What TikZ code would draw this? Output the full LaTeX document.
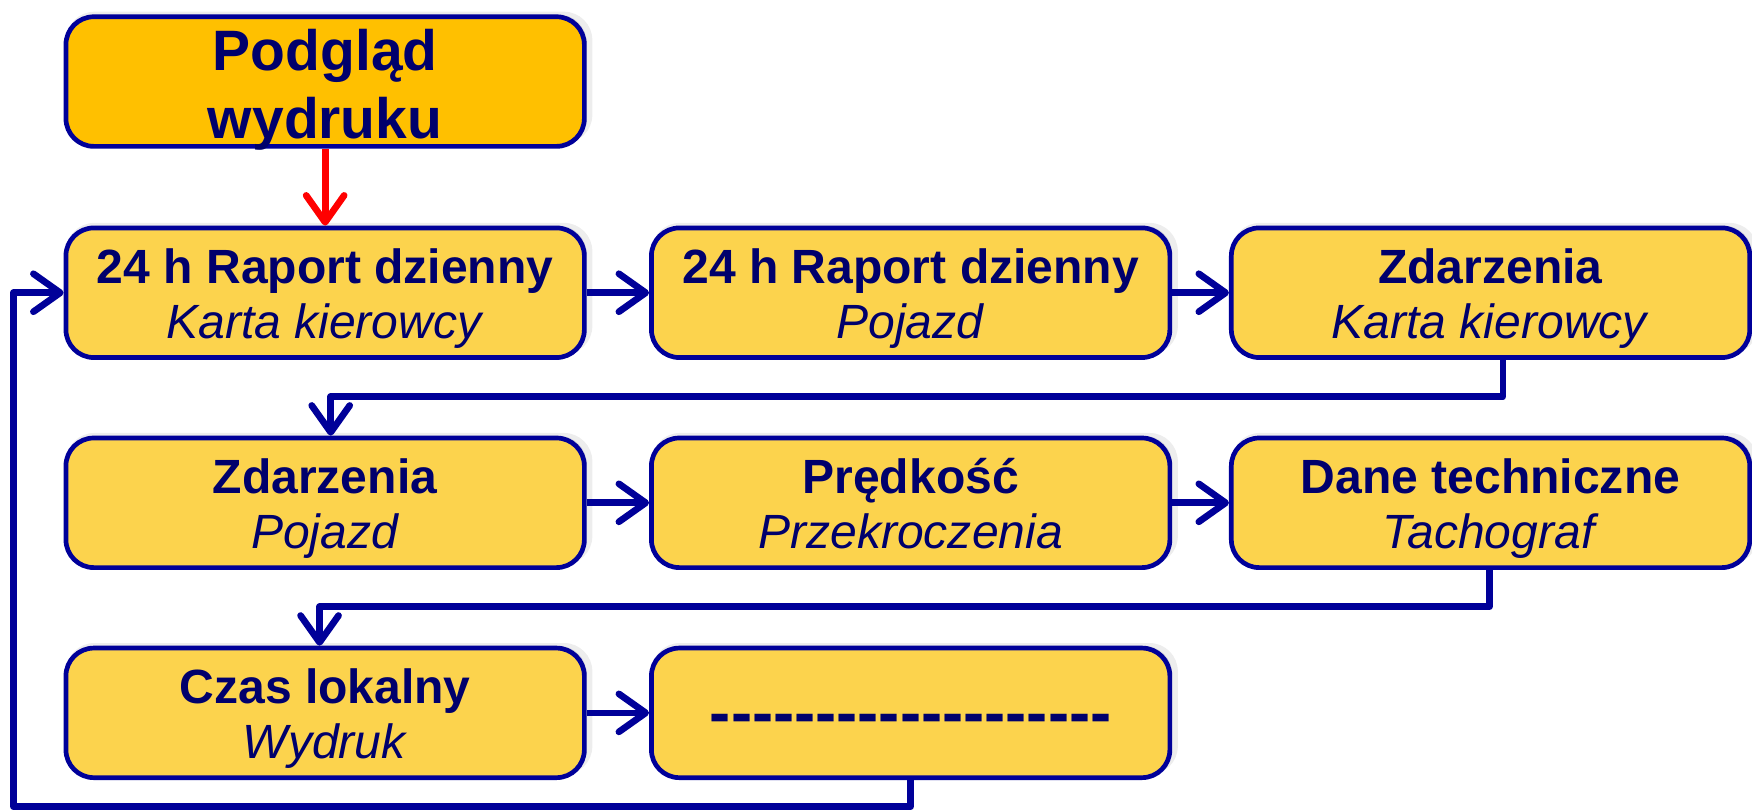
\documentclass[tikz,border=0pt]{standalone}
\usepackage{fontspec}
\setmainfont{Liberation Sans}
\usetikzlibrary{arrows.meta,shadows,calc}
\definecolor{boxblue}{RGB}{0,0,153}
\definecolor{txtblue}{RGB}{0,0,108}
\definecolor{topfill}{RGB}{255,192,0}
\definecolor{rowfill}{RGB}{252,211,77}
\newcommand\twoline[2]{\textbf{#1}\rule{0pt}{22.1pt}\\\textit{#2}\rule[-6pt]{0pt}{6pt}}
\newcommand\hy{\mbox{-}}
\begin{document}
\begin{tikzpicture}[x=0.5pt,y=-0.5pt,
  basebox/.style={draw=boxblue,line width=2.1pt,rounded corners=12.5pt,
    minimum width=232pt,minimum height=58pt,inner sep=0pt,align=center,
    text=txtblue,
    general shadow={fill=black,opacity=0.07,shadow xshift=1.8pt,shadow yshift=1.8pt,shadow scale=1.015},
    general shadow={fill=black,opacity=0.10,shadow xshift=1pt,shadow yshift=1pt}},
  topbox/.style={basebox,fill=topfill,font=\fontsize{25.5pt}{30.5pt}\selectfont\bfseries},
  rowbox/.style={basebox,fill=rowfill,font=\fontsize{21.5pt}{24.5pt}\selectfont},
  conn/.style={draw=boxblue,line width=3pt,line join=round,
    -{Straight Barb[length=12pt,width=17pt,round]}},
  redconn/.style={draw=red,line width=3pt,
    -{Straight Barb[length=12pt,width=17pt,round]}}]
\useasboundingbox (0,0) rectangle (1568,726);
\node[topbox] (T) at (291,73) {Podgląd\rule{0pt}{20.2pt}\\\smash{wydruku}};
\node[rowbox] (B1) at (291,262) {\twoline{24 h Raport dzienny}{Karta kierowcy}};
\node[rowbox] (B2) at (815,262) {\twoline{24 h Raport dzienny}{Pojazd}};
\node[rowbox] (B3) at (1334,262) {\twoline{Zdarzenia}{Karta kierowcy}};
\node[rowbox] (B4) at (291,450) {\twoline{Zdarzenia}{Pojazd}};
\node[rowbox] (B5) at (815,450) {\twoline{Prędkość}{Przekroczenia}};
\node[rowbox] (B6) at (1334,450) {\twoline{Dane techniczne}{Tachograf}};
\node[rowbox] (B7) at (291,638) {\twoline{Czas lokalny}{Wydruk}};
\node[rowbox,font=\fontsize{28.4pt}{30pt}\selectfont\bfseries] (B8) at (815,638)
  {\rule[-4pt]{0pt}{27pt}\hy\hy\hy\hy\hy\hy\hy\hy\hy\hy\hy\hy\hy\hy\hy\hy\hy\hy\hy};
\coordinate (k1) at (1345,355);
\coordinate (k2) at (1333,543);
\coordinate (lp) at (12,722);
\draw[redconn] (T.south) -- (B1.north);
\draw[conn] (B1.east) -- (B2.west);
\draw[conn] (B2.east) -- (B3.west);
\draw[conn] (B4.east) -- (B5.west);
\draw[conn] (B5.east) -- (B6.west);
\draw[conn] (B7.east) -- (B8.west);
\draw[conn] (k1 |- B3.south) -- (k1) -| ([xshift=2.5pt]B4.north);
\draw[conn] (k2 |- B6.south) -- (k2) -| ([xshift=-2.5pt]B7.north);
\draw[conn] (B8.south) -- (B8.south |- lp) -- (lp) |- (B1.west);
\end{tikzpicture}
\end{document}
